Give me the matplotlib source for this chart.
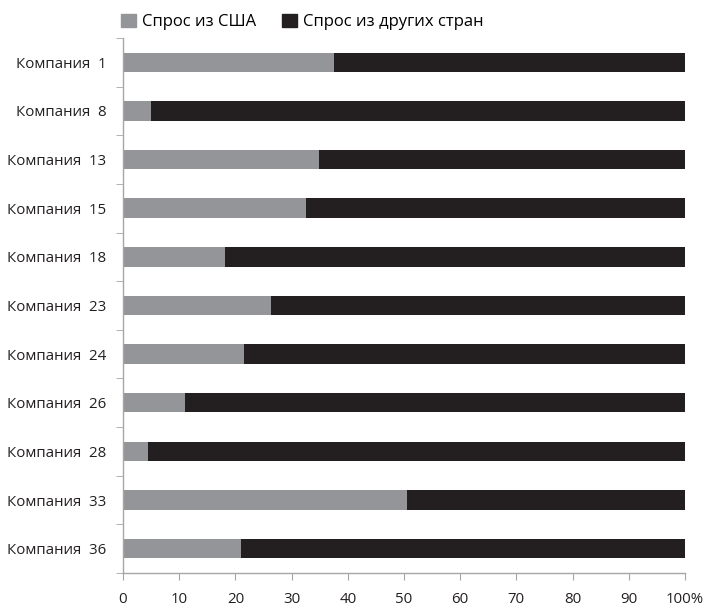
import numpy as np
import matplotlib.pyplot as plt
from matplotlib.patches import Patch

companies = ['Компания  1', 'Компания  8', 'Компания  13', 'Компания  15', 'Компания  18',
             'Компания  23', 'Компания  24', 'Компания  26', 'Компания  28', 'Компания  33',
             'Компания  36']
usa_share = [37.6, 5.0, 34.8, 32.6, 18.2, 26.4, 21.6, 11.1, 4.5, 50.6, 21.0]
other_share = [100 - v for v in usa_share]
x_ticks = [0, 10, 20, 30, 40, 50, 60, 70, 80, 90, 100]
x_labels = ['0', '10', '20', '30', '40', '50', '60', '70', '80', '90', '100%']

gray = '#939598'
black = '#231f20'
axis_col = '#a6a6a6'

plt.rcParams['font.family'] = ['Open Sans', 'DejaVu Sans']

fig = plt.figure(figsize=(7.05, 6.10), dpi=100)
ax = fig.add_axes([0.1745, 0.0607, 0.7971, 0.877])

y = np.arange(len(companies))
ax.barh(y, usa_share, height=0.4, color=gray, label='Спрос из США')
ax.barh(y, other_share, left=usa_share, height=0.4, color=black, label='Спрос из других стран')

ax.set_ylim(len(companies) - 0.5, -0.5)
ax.set_xlim(0, 100)

ax.set_yticks(y)
ax.set_yticklabels(companies, fontsize=10.8, color='#231f20')
ax.tick_params(axis='y', which='major', length=0, pad=12)
ax.set_yticks(np.arange(-0.5, len(companies), 1), minor=True)
ax.tick_params(axis='y', which='minor', length=5, color=axis_col, direction='out')

ax.set_xticks(x_ticks)
ax.set_xticklabels(x_labels, fontsize=10.8, color='#231f20')
ax.tick_params(axis='x', length=5, color=axis_col, pad=9)

for side in ['top', 'right']:
    ax.spines[side].set_visible(False)
for side in ['left', 'bottom']:
    ax.spines[side].set_color(axis_col)
    ax.spines[side].set_linewidth(1)

handles = [Patch(color=gray), Patch(color=black)]
fig.legend(handles, ['Спрос из США', 'Спрос из других стран'], loc='center left',
           bbox_to_anchor=(0.15, 0.964), ncol=2, frameon=False, fontsize=12,
           handlelength=0.9, handleheight=0.9, handletextpad=0.35, columnspacing=1.6)

fig.savefig('out.png', dpi=100)
